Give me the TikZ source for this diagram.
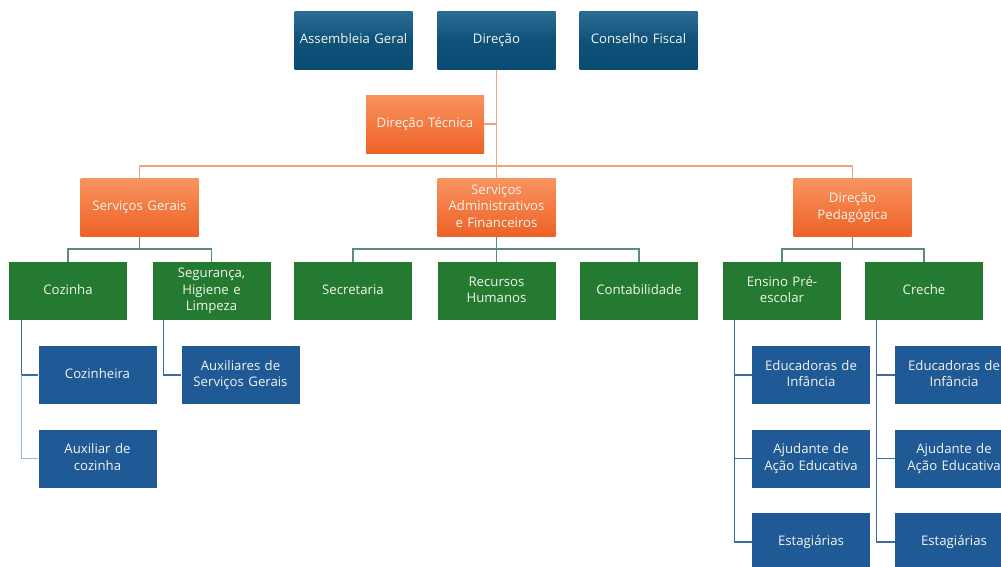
\documentclass[tikz,border=0pt]{standalone}
\usepackage{fontspec}
\setmainfont{Open Sans}
\definecolor{topblue1}{HTML}{2B6C93}
\definecolor{topblue2}{HTML}{0A4D74}
\definecolor{orange1}{HTML}{F8935E}
\definecolor{orange2}{HTML}{EE6226}
\definecolor{boxgreen}{HTML}{247A30}
\definecolor{boxblue}{HTML}{1F5A97}
\definecolor{txt}{HTML}{F4F4EC}
\definecolor{lineorange}{HTML}{F3A47C}
\definecolor{linegreen}{HTML}{5E8C72}
\definecolor{lineblue}{HTML}{3C6C9A}
\definecolor{lineblue2}{HTML}{88BCDB}
\tikzset{
  box/.style={rectangle, minimum width=118pt, minimum height=58pt, inner sep=2pt,
    text width=112pt, align=center, text=txt, font=\fontsize{13.2}{16.5}\selectfont,
    execute at begin node=\strut, execute at end node=\strut},
  topbox/.style={box, top color=topblue1, bottom color=topblue2, middle color=topblue2!85!topblue1},
  orbox/.style={box, top color=orange1, bottom color=orange2},
  grbox/.style={box, fill=boxgreen},
  blbox/.style={box, fill=boxblue},
  olink/.style={draw=lineorange, line width=1.5pt},
  glink/.style={draw=linegreen, line width=1.2pt},
  blink/.style={draw=lineblue, line width=1.2pt},
  blink2/.style={draw=lineblue2, line width=1.2pt},
}
\begin{document}
\begin{tikzpicture}[x=1pt,y=-1pt]
\path[use as bounding box] (0,0) rectangle (1001,566);
\clip (0,0) rectangle (1001,566);
% top
\node[topbox] (ag) at (353.5,40.5) {Assembleia Geral};
\node[topbox] (dir) at (496.5,40.5) {Direção};
\node[topbox] (cf) at (638.5,40.5) {Conselho Fiscal};
\node[orbox] (dt) at (425,124) {Direção Técnica};
% orange level
\node[orbox] (sg) at (139.5,207.5) {Serviços Gerais};
\node[orbox] (sa) at (496.5,207.5) {Serviços\\Administrativos\\e Financeiros};
\node[orbox] (dp) at (852.5,207.5) {Direção\\Pedagógica};
% green level
\node[grbox] (coz) at (68,291) {Cozinha};
\node[grbox] (seg) at (211.5,291) {Segurança,\\Higiene e\\Limpeza};
\node[grbox] (sec) at (353,291) {Secretaria};
\node[grbox] (rh) at (496.5,291) {Recursos\\Humanos};
\node[grbox] (cont) at (639,291) {Contabilidade};
\node[grbox] (ens) at (782,291) {Ensino Pré-\\escolar};
\node[grbox] (cre) at (924,291) {Creche};
% blue level
\node[blbox] (czh) at (97.5,375) {Cozinheira};
\node[blbox] (axc) at (97.5,458.5) {Auxiliar de\\cozinha};
\node[blbox] (axs) at (240.5,375) {Auxiliares de\\Serviços Gerais};
\node[blbox] (edu1) at (811,375) {Educadoras de\\Infância};
\node[blbox] (aju1) at (811,458.5) {Ajudante de\\Ação Educativa};
\node[blbox] (est1) at (811,542) {Estagiárias};
\node[blbox] (edu2) at (954,375) {Educadoras de\\Infância};
\node[blbox] (aju2) at (954,458.5) {Ajudante de\\Ação Educativa};
\node[blbox] (est2) at (954,542) {Estagiárias};
% coordinates
\coordinate (obus) at (dir.south |- 0,166);
\coordinate (gbus) at (0,249);
% orange links
\draw[olink] (dir.south) -- (obus);
\draw[olink] (dt.east) -- (dt.east -| dir.south);
\draw[olink] (sg.north) |- (obus);
\draw[olink] (dp.north) |- (obus);
\draw[olink] (obus) -- (sa.north);
% green links
\draw[glink] (sg.south) -- (sg.south |- gbus);
\draw[glink] (coz.north) |- (sg.south |- gbus) -| (seg.north);
\draw[glink] (sa.south) -- (rh.north);
\draw[glink] (sec.north) |- (sa.south |- gbus) -| (cont.north);
\draw[glink] (dp.south) -- (dp.south |- gbus);
\draw[glink] (ens.north) |- (dp.south |- gbus) -| (cre.north);
% blue links
\draw[blink] ([xshift=13pt]coz.south west) |- (czh.west);
\draw[blink2] ([xshift=13pt]coz.south west |- czh.west) |- (axc.west);
\draw[blink] ([xshift=11pt]seg.south west) |- (axs.west);
\draw[blink] ([xshift=12pt]ens.south west) |- (est1.west);
\draw[blink] ([xshift=12pt]ens.south west |- edu1.west) -- (edu1.west);
\draw[blink] ([xshift=12pt]ens.south west |- aju1.west) -- (aju1.west);
\draw[blink] ([xshift=12pt]cre.south west) |- (est2.west);
\draw[blink] ([xshift=12pt]cre.south west |- edu2.west) -- (edu2.west);
\draw[blink] ([xshift=12pt]cre.south west |- aju2.west) -- (aju2.west);
\end{tikzpicture}
\end{document}
